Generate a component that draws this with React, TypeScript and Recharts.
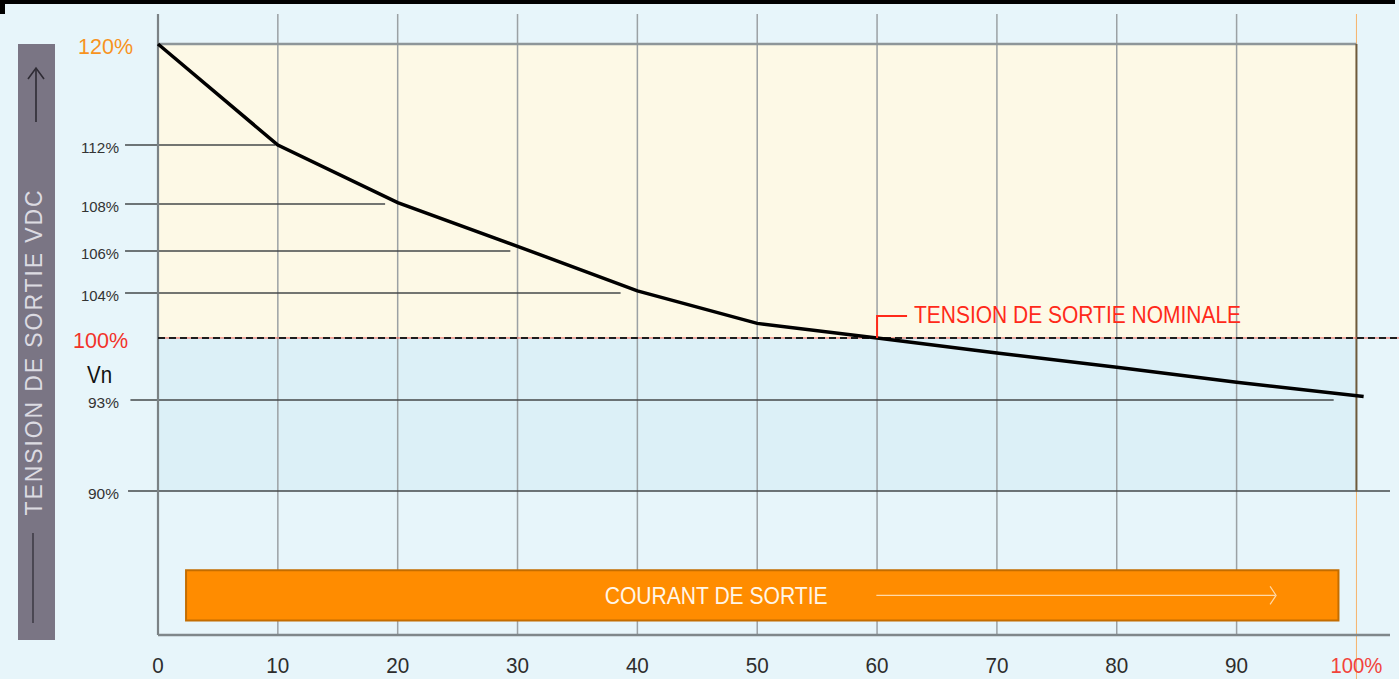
import React from 'react'
import {
  LineChart,
  Line,
  XAxis,
  YAxis,
  ReferenceLine,
  ReferenceArea,
  ReferenceDot
} from 'recharts'

// output current (% of nominal) and output voltage (% of Vn)
const CURRENT = [0, 10, 20, 30, 40, 50, 60, 70, 80, 90, 100.6]
const VOLTAGE = [120, 112, 108.1, 106.2, 104.1, 101.3, 100, 98.3, 96.7, 95.0, 93.4]

const X_TICKS = [0, 10, 20, 30, 40, 50, 60, 70, 80, 90, 100]
const GRID_X = [10, 20, 30, 40, 50, 60, 70, 80, 90]
const Y_TICKS = [120, 112, 108, 106, 104, 100, 93, 90]

// the drawing's voltage axis is schematic: every level sits at its own height
const AXIS_LEVELS = [80, 90, 93, 100, 104, 106, 108, 112, 120, 122]
const AXIS_HEIGHTS = [0, 0.2319, 0.3784, 0.4783, 0.5507, 0.6184, 0.694, 0.789, 0.9517, 1]

// leader lines from a label to the curve: level, start, end
const LEADER_LEVEL = [112, 108, 106, 104, 93, 90]
const LEADER_FROM = [-2.75, -2.75, -2.75, -2.75, -2.3, -2.5]
const LEADER_TO = [9.8, 18.95, 29.4, 38.6, 98.1, 102.8]

const data = CURRENT.map((i, k) => ({ i, v: VOLTAGE[k] }))

const FONT = "'Liberation Sans', Arial, sans-serif"

function schematicScale(levels: number[], heights: number[]) {
  let domain = [levels[0], levels[levels.length - 1]]
  let range = [0, 1]
  const frac = (v: number) => {
    let i = 1
    while (i < levels.length - 1 && v > levels[i]) i++
    const a = levels[i - 1]
    const b = levels[i]
    return heights[i - 1] + ((v - a) / (b - a)) * (heights[i] - heights[i - 1])
  }
  const scale: any = (v: number) => range[0] + frac(v) * (range[1] - range[0])
  scale.domain = (d?: number[]) => {
    if (d === undefined) return domain
    domain = d
    return scale
  }
  scale.range = (r?: number[]) => {
    if (r === undefined) return range
    range = r
    return scale
  }
  scale.copy = () => schematicScale(levels, heights).domain(domain).range(range)
  scale.ticks = () => Y_TICKS
  return scale
}

const yScale = schematicScale(AXIS_LEVELS, AXIS_HEIGHTS)

function XTick({ x, y, payload }: any) {
  const last = payload.value === 100
  return (
    <text
      x={x}
      y={y + 30}
      textAnchor="middle"
      fill={last ? '#f2433b' : '#2d2d2d'}
      fontSize={22}
      fontFamily={FONT}
      textLength={last ? 52 : String(payload.value).length * 11.5}
      lengthAdjust="spacingAndGlyphs"
    >
      {last ? '100%' : payload.value}
    </text>
  )
}

function YTick({ x, y, payload }: any) {
  const v = payload.value
  if (v === 120 || v === 100) {
    return (
      <text
        x={v === 120 ? x - 25 : x - 30}
        y={y + 2}
        dy="0.36em"
        textAnchor="end"
        fill={v === 120 ? '#f7931e' : '#f2332a'}
        fontSize={21.5}
        fontFamily={FONT}
      >
        {v}%
      </text>
    )
  }
  return (
    <text
      x={x - 39}
      y={y + 2}
      dy="0.36em"
      textAnchor="end"
      fill="#333"
      fontSize={15.5}
      fontFamily={FONT}
      textLength={v < 100 ? 31 : 38}
      lengthAdjust="spacingAndGlyphs"
    >
      {v}%
    </text>
  )
}

// "Vn" sits under the 100% label, left of the axis
function VnLabel({ viewBox }: any) {
  return (
    <text
      x={viewBox.x - 71}
      y={viewBox.y + 36}
      dy="0.36em"
      fill="#111"
      fontSize={24}
      fontFamily={FONT}
      textLength={25}
      lengthAdjust="spacingAndGlyphs"
    >
      Vn
    </text>
  )
}

function BannerLabel({ viewBox }: any) {
  const { x, y, width, height } = viewBox
  const cy = y + height / 2
  const ax1 = x + width * 0.599
  const ax2 = x + width * 0.945
  return (
    <g>
      <text
        x={x + width * 0.46}
        y={cy}
        dy="0.36em"
        textAnchor="middle"
        fill="#fff6e8"
        fontSize={23}
        fontFamily={FONT}
        textLength={223}
        lengthAdjust="spacingAndGlyphs"
      >
        COURANT DE SORTIE
      </text>
      <line x1={ax1} y1={cy} x2={ax2} y2={cy} stroke="#ffd9a8" strokeWidth={1.2} />
      <path d={`M${ax2 - 5},${cy - 9} L${ax2 + 1},${cy} L${ax2 - 5},${cy + 9}`} stroke="#ffd9a8" strokeWidth={1.2} fill="none" />
    </g>
  )
}

function NominalMark({ cx, cy }: any) {
  return (
    <g>
      <path d={`M${cx},${cy} v-22 h30`} stroke="#ff2a1a" strokeWidth={2} fill="none" />
      <text
        x={cx + 37}
        y={cy - 15}
        fill="#ff2a1a"
        fontSize={24}
        fontFamily={FONT}
        textLength={327}
        lengthAdjust="spacingAndGlyphs"
      >
        TENSION DE SORTIE NOMINALE
      </text>
    </g>
  )
}

function SideTitle() {
  return (
    <>
      <div style={{ position: 'absolute', left: 18, top: 44, width: 37, height: 596, background: '#7a7584' }}>
        <svg width={37} height={596}>
          <line x1={18} y1={24} x2={18} y2={78} stroke="#2e2b34" strokeWidth={1.6} />
          <path d="M10,35 L18,24 L26,35" stroke="#2e2b34" strokeWidth={1.6} fill="none" />
          <line x1={15} y1={489} x2={15} y2={579} stroke="#37343e" strokeWidth={1.4} />
        </svg>
      </div>
      <div
        style={{
          position: 'absolute',
          left: 34 - 170,
          top: 351.5 - 13,
          width: 340,
          height: 26,
          lineHeight: '26px',
          textAlign: 'center',
          whiteSpace: 'nowrap',
          color: '#dcdbe2',
          fontFamily: FONT,
          fontSize: 23,
          letterSpacing: '1.9px',
          transform: 'rotate(-90deg)',
          transformOrigin: '50% 50%'
        }}
      >
        TENSION DE SORTIE VDC
      </div>
    </>
  )
}

export default function App() {
  return (
    <div style={{ position: 'absolute', left: 0, top: 0, width: 1399, height: 679, background: '#e7f5fa', overflow: 'hidden' }}>
      <div style={{ position: 'absolute', left: 0, top: 0, width: 1395, height: 4, background: '#000' }} />
      <div style={{ position: 'absolute', left: 0, top: 0, width: 5, height: 14, background: '#000' }} />
      <SideTitle />
      <div style={{ position: 'absolute', left: 0, top: 0 }}>
        <LineChart width={1399} height={679} data={data} margin={{ top: 14, right: 9, bottom: 14, left: 98 }}>
          <XAxis
            dataKey="i"
            type="number"
            domain={[0, 102.8]}
            ticks={X_TICKS}
            tick={<XTick />}
            tickLine={false}
            axisLine={{ stroke: '#7f878a', strokeWidth: 2.5 }}
            height={30}
            interval={0}
          />
          <YAxis
            type="number"
            domain={[80, 122]}
            scale={yScale}
            ticks={Y_TICKS}
            tick={<YTick />}
            tickLine={false}
            axisLine={false}
            tickSize={0}
            tickMargin={0}
            width={60}
            interval={0}
          />

          <ReferenceArea x1={0} x2={100} y1={100} y2={120} fill="#fdf9e6" fillOpacity={1} stroke="none" zIndex={10} />
          <ReferenceArea x1={0} x2={100} y1={90} y2={100} fill="#dcf0f7" fillOpacity={1} stroke="none" zIndex={10} />

          {GRID_X.map(g => (
            <ReferenceLine key={g} x={g} stroke="#9ba1a4" strokeWidth={1.5} zIndex={20} />
          ))}
          <ReferenceLine
            segment={[{ x: 100, y: 76.9 }, { x: 100, y: 122 }]}
            stroke="#f6b26a"
            strokeWidth={1}
            ifOverflow="visible"
            zIndex={20}
          />

          {LEADER_LEVEL.map((lv, k) => (
            <ReferenceLine
              key={lv}
              segment={[{ x: LEADER_FROM[k], y: lv }, { x: LEADER_TO[k], y: lv }]}
              stroke="#45484a"
              strokeWidth={1.5}
              ifOverflow="visible"
              zIndex={30}
            />
          ))}

          <ReferenceLine x={0} stroke="#7b8285" strokeWidth={2.2} zIndex={30} />
          <ReferenceLine
            segment={[{ x: 0, y: 120 }, { x: 100, y: 120 }]}
            stroke="#8e9699"
            strokeWidth={2.5}
            zIndex={30}
          />
          <ReferenceLine
            segment={[{ x: 100, y: 90 }, { x: 100, y: 120 }]}
            stroke="#6e5a3c"
            strokeWidth={2}
            zIndex={30}
          />

          <ReferenceLine
            segment={[{ x: 0, y: 100 }, { x: 104, y: 100 }]}
            stroke="#ea5a4e"
            strokeWidth={1}
            ifOverflow="visible"
            zIndex={40}
          />
          <ReferenceLine
            segment={[{ x: 0, y: 100 }, { x: 104, y: 100 }]}
            stroke="#1d1d1d"
            strokeWidth={2}
            strokeDasharray="7 4"
            ifOverflow="visible"
            zIndex={41}
          />

          <ReferenceArea
            x1={2.34}
            x2={98.5}
            y1={81.0}
            y2={84.5}
            fill="#ff8c00"
            fillOpacity={1}
            stroke="#c46d00"
            strokeWidth={2}
            label={{ content: BannerLabel }}
            zIndex={50}
          />

          <Line
            type="linear"
            dataKey="v"
            stroke="#000"
            strokeWidth={3.5}
            dot={false}
            activeDot={false}
            isAnimationActive={false}
            zIndex={60}
          />

          <ReferenceDot x={0} y={100} r={0} label={{ content: VnLabel }} ifOverflow="visible" zIndex={70} />
          <ReferenceDot x={60} y={100} r={0} shape={<NominalMark />} zIndex={70} />
        </LineChart>
      </div>
    </div>
  )
}
